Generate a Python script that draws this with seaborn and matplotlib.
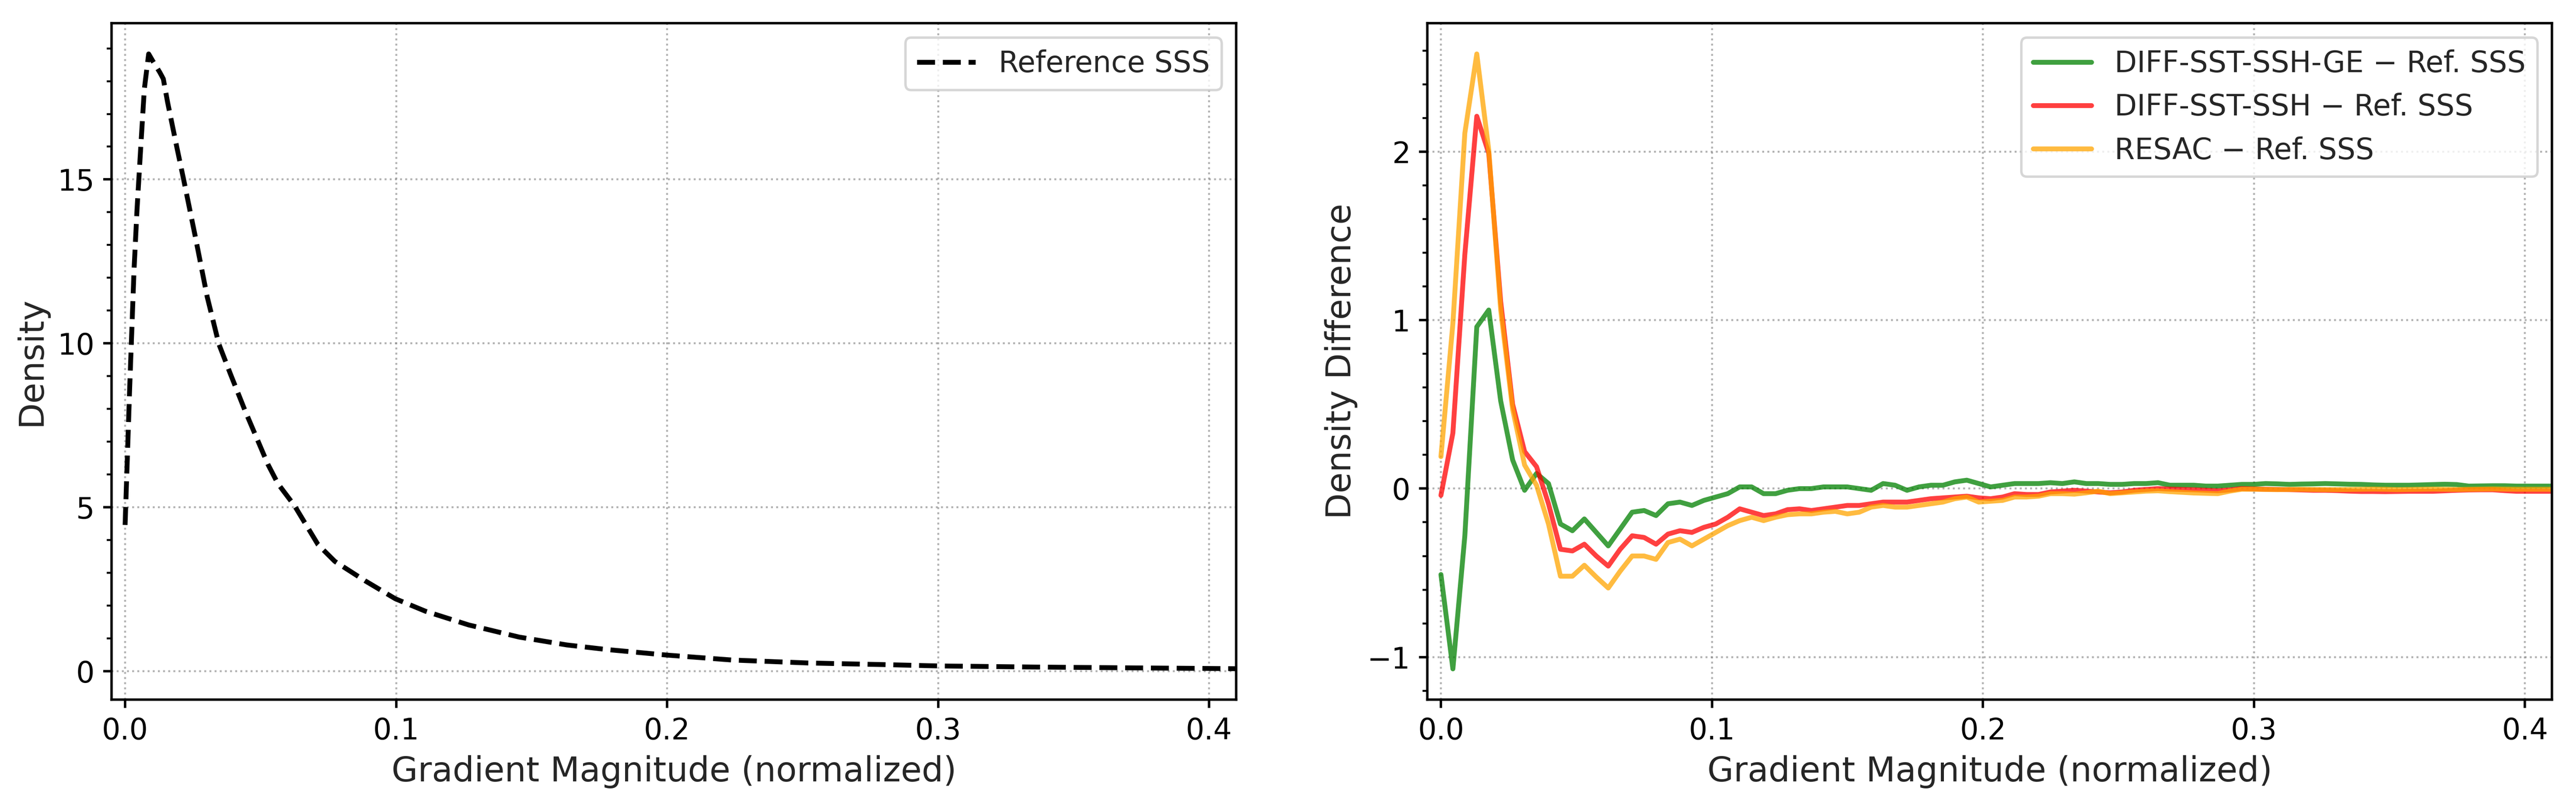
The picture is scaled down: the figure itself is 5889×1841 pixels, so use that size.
import numpy as np
import pandas as pd
import matplotlib
matplotlib.use("Agg")
import matplotlib.pyplot as plt
from matplotlib.ticker import AutoMinorLocator, MultipleLocator
import seaborn as sns

# reference SSS density curve
ref_x = [0.0, 0.0017, 0.0033, 0.0044, 0.0058, 0.0071, 0.0087, 0.0101, 0.0128, 0.0141,
         0.0157, 0.019, 0.0216, 0.0259, 0.0303, 0.0346, 0.0389, 0.0443, 0.0527, 0.0564,
         0.0625, 0.0712, 0.0774, 0.0885, 0.0997, 0.1108, 0.1268, 0.1334, 0.1454, 0.163,
         0.1778, 0.2, 0.224, 0.252, 0.28, 0.3, 0.3355, 0.3727, 0.41, 0.43]
ref_density = [4.46, 8.66, 12.24, 14.08, 16.02, 17.76, 18.83, 18.63, 18.27, 18.07,
               17.35, 16.02, 15.0, 13.26, 11.42, 9.98, 9.06, 7.94, 6.31, 5.72,
               5.05, 3.86, 3.35, 2.76, 2.21, 1.83, 1.41, 1.28, 1.04, 0.80,
               0.66, 0.49, 0.34, 0.25, 0.20, 0.16, 0.126, 0.10, 0.076, 0.07]

# density differences per histogram bin (bin width ~0.00441)
bin_width = 0.00441
diff_ge = [-0.51, -1.07, -0.28, 0.96, 1.06, 0.52, 0.17, -0.01, 0.09, 0.03,
           -0.21, -0.25, -0.18, -0.26, -0.34, -0.24, -0.14, -0.13, -0.16, -0.09,
           -0.08, -0.10, -0.07, -0.05, -0.03, 0.01, 0.01, -0.03, -0.03, -0.01,
           0.00, 0.00, 0.01, 0.01, 0.01, 0.00, -0.01, 0.03, 0.02, -0.01,
           0.01, 0.02, 0.02, 0.04, 0.05, 0.03, 0.01, 0.02, 0.03, 0.03,
           0.03, 0.035, 0.03, 0.04, 0.03, 0.03, 0.025, 0.025, 0.03, 0.03,
           0.035, 0.02, 0.02, 0.02, 0.015, 0.015, 0.02, 0.025, 0.025, 0.03,
           0.028, 0.025, 0.027, 0.028, 0.03, 0.028, 0.026, 0.025, 0.022, 0.02,
           0.02, 0.02, 0.022, 0.024, 0.026, 0.024, 0.015, 0.016, 0.017, 0.017,
           0.015, 0.015, 0.015, 0.015, 0.015]
diff_sst_ssh = [-0.04, 0.33, 1.39, 2.21, 1.99, 1.11, 0.50, 0.22, 0.13, -0.09,
                -0.36, -0.37, -0.33, -0.40, -0.46, -0.36, -0.28, -0.29, -0.33, -0.27,
                -0.25, -0.26, -0.23, -0.21, -0.17, -0.12, -0.14, -0.16, -0.15, -0.125,
                -0.12, -0.13, -0.12, -0.11, -0.10, -0.10, -0.09, -0.08, -0.08, -0.08,
                -0.07, -0.06, -0.055, -0.05, -0.045, -0.055, -0.06, -0.05, -0.03, -0.035,
                -0.035, -0.02, -0.015, -0.01, -0.015, -0.02, -0.025, -0.02, -0.01, -0.005,
                0.0, -0.003, -0.005, -0.007, -0.01, -0.013, -0.008, 0.0, -0.002, -0.004,
                -0.005, -0.006, -0.008, -0.01, -0.01, -0.012, -0.015, -0.017, -0.017, -0.018,
                -0.017, -0.016, -0.016, -0.016, -0.013, -0.01, -0.008, -0.007, -0.007, -0.012,
                -0.016, -0.016, -0.016, -0.016, -0.016]
diff_resac = [0.19, 0.98, 2.11, 2.58, 2.01, 1.06, 0.47, 0.14, 0.02, -0.21,
              -0.52, -0.52, -0.455, -0.525, -0.59, -0.49, -0.40, -0.40, -0.42, -0.32,
              -0.30, -0.34, -0.30, -0.26, -0.22, -0.19, -0.17, -0.19, -0.17, -0.155,
              -0.15, -0.15, -0.14, -0.135, -0.15, -0.14, -0.11, -0.10, -0.11, -0.11,
              -0.10, -0.09, -0.08, -0.06, -0.05, -0.08, -0.075, -0.07, -0.05, -0.05,
              -0.045, -0.03, -0.03, -0.033, -0.025, -0.015, -0.03, -0.025, -0.02, -0.015,
              -0.013, -0.018, -0.022, -0.026, -0.028, -0.03, -0.015, -0.004, -0.004, -0.005,
              -0.006, -0.005, -0.004, -0.005, -0.006, -0.006, -0.005, -0.004, -0.003, -0.004,
              -0.006, -0.005, -0.004, -0.003, -0.004, -0.005, -0.004, -0.003, -0.002, -0.003,
              -0.004, -0.004, -0.004, -0.004, -0.004]

series_labels = ["DIFF-SST-SSH-GE \u2212 Ref. SSS", "DIFF-SST-SSH \u2212 Ref. SSS", "RESAC \u2212 Ref. SSS"]
series_colors = ["green", "red", "orange"]

ref_df = pd.DataFrame({"x": ref_x, "density": ref_density})
diff_df = pd.DataFrame({
    "x": bin_width * np.arange(len(diff_ge)),
    series_labels[0]: diff_ge,
    series_labels[1]: diff_sst_ssh,
    series_labels[2]: diff_resac,
})

sns.set_style("ticks")
plt.rcParams.update({
    "font.family": ["DejaVu Sans"],
    "axes.edgecolor": "black",
    "axes.linewidth": 1.0,
    "xtick.color": "black",
    "ytick.color": "black",
    "xtick.major.size": 3.5,
    "ytick.major.size": 3.5,
    "ytick.minor.size": 2.0,
    "xtick.major.width": 1.0,
    "ytick.major.width": 1.0,
    "ytick.minor.width": 0.8,
})

fig, axes = plt.subplots(1, 2, figsize=(5889 / 400, 1841 / 400), dpi=400)
fig.subplots_adjust(left=0.0433, right=0.9907, bottom=0.1309, top=0.9712, wspace=0.170)

ax = axes[0]
sns.lineplot(data=ref_df, x="x", y="density", ax=ax, color="black", linestyle="--",
             linewidth=2, label="Reference SSS")
ax.set_xlabel("Gradient Magnitude (normalized)", fontsize=14)
ax.set_ylabel("Density", fontsize=14)
ax.yaxis.set_major_locator(MultipleLocator(5))

ax = axes[1]
for lab, col in zip(series_labels, series_colors):
    sns.lineplot(data=diff_df, x="x", y=lab, ax=ax, color=col, alpha=0.75,
                 linewidth=2, label=lab)
ax.set_xlabel("Gradient Magnitude (normalized)", fontsize=14)
ax.set_ylabel("Density Difference", fontsize=14)
ax.yaxis.set_major_locator(MultipleLocator(1))

for ax in axes:
    ax.set_xlim(-0.005, 0.41)
    ax.set_xticks([0.0, 0.1, 0.2, 0.3, 0.4])
    ax.yaxis.set_minor_locator(AutoMinorLocator(5))
    ax.tick_params(labelsize=12)
    ax.grid(True, which="major", linestyle=":", color="gray", alpha=0.6, linewidth=0.8)
    ax.legend(loc="upper right", fontsize=12)
    for sp in ax.spines.values():
        sp.set_visible(True)

fig.savefig("out.png", dpi=400)
